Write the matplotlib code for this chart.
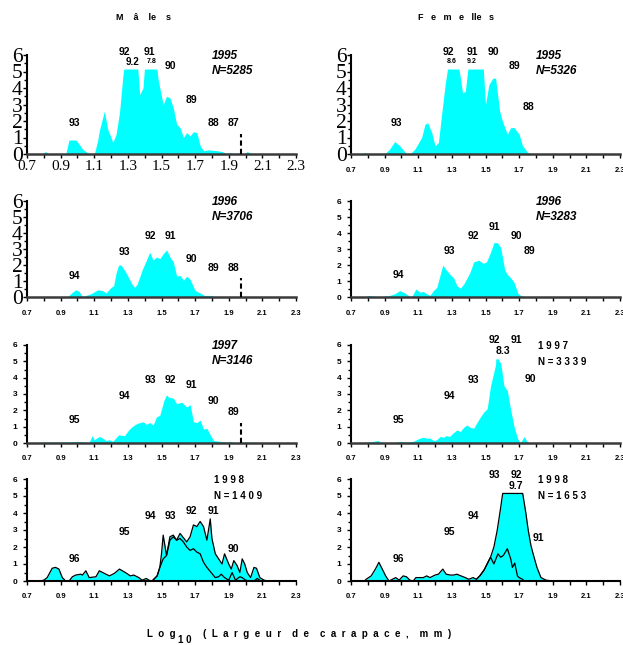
import numpy as np
import matplotlib
matplotlib.use("Agg")
import matplotlib.pyplot as plt
from matplotlib.ticker import MultipleLocator, FixedLocator

plt.rcParams['font.family'] = ['Liberation Sans', 'DejaVu Sans']

# ---------------- data: log10 carapace width vs. frequency (%) ----------------
CAP = 5.15  # display ceiling for the tallest modes

m95_x = [0.70, 0.79, 0.81, 0.83, 0.93, 0.95, 0.99, 1.01, 1.03, 1.07, 1.10, 1.12, 1.13, 1.16,
         1.18, 1.20, 1.21, 1.23, 1.25, 1.27, 1.285, 1.32, 1.35, 1.37, 1.39, 1.40, 1.44, 1.47,
         1.48, 1.51, 1.53, 1.55, 1.57, 1.59, 1.61, 1.63, 1.65, 1.67, 1.69, 1.71, 1.73, 1.75,
         1.78, 1.83, 1.86, 1.89, 1.91, 1.93, 1.96, 1.99, 2.01, 2.03, 2.06, 2.10, 2.30]
m95_y = [0, 0, 0.15, 0, 0, 0.85, 0.85, 0.6, 0.3, 0, 0, 0.8, 1.4, 2.6,
         1.5, 1.0, 0.7, 1.2, 2.5, 4.7, 6.0, 9.2, 6.5, 3.6, 4.0, 5.4, 7.8, 5.4,
         4.5, 3.0, 3.5, 3.4, 2.8, 1.8, 1.6, 1.0, 1.3, 1.1, 1.35, 1.3, 0.5, 0.2,
         0.25, 0.2, 0.15, 0.0, 0.1, 0.02, 0.05, 0.0, 0.15, 0.05, 0.02, 0.0, 0]

f95_x = [0.70, 0.77, 0.78, 0.80, 0.90, 0.93, 0.96, 0.99, 1.03, 1.05, 1.08, 1.12, 1.14, 1.156,
         1.18, 1.20, 1.22, 1.24, 1.26, 1.28, 1.31, 1.34, 1.364, 1.38, 1.40, 1.44, 1.484, 1.50,
         1.52, 1.544, 1.56, 1.584, 1.60, 1.63, 1.65, 1.67, 1.70, 1.72, 1.75, 1.78, 2.30]
f95_y = [0, 0, 0.1, 0, 0, 0.3, 0.75, 0.5, 0, 0, 0.3, 1.0, 1.8, 1.9,
         1.3, 0.5, 0.7, 2.5, 4.2, 5.6, 8.6, 5.3, 3.7, 3.8, 5.6, 9.2, 5.6, 3.0,
         4.2, 4.6, 4.6, 2.6, 2.0, 1.2, 1.6, 1.6, 1.2, 0.5, 0.1, 0, 0]

m96_x = [0.70, 0.80, 0.82, 0.84, 0.94, 0.97, 0.99, 1.01, 1.03, 1.05, 1.08, 1.12, 1.15, 1.17,
         1.20, 1.215, 1.23, 1.245, 1.26, 1.29, 1.325, 1.34, 1.355, 1.385, 1.41, 1.43, 1.45,
         1.47, 1.49, 1.51, 1.53, 1.55, 1.57, 1.59, 1.61, 1.63, 1.65, 1.67, 1.70, 1.73, 1.755,
         1.79, 1.82, 2.30]
m96_y = [0, 0, 0.05, 0, 0, 0.3, 0.45, 0.35, 0, 0.1, 0.2, 0.45, 0.4, 0.25,
         0.6, 0.7, 1.5, 2.0, 2.0, 1.5, 0.8, 0.6, 0.8, 1.7, 2.3, 2.8, 2.3,
         2.5, 2.4, 2.7, 2.95, 2.5, 2.2, 1.3, 1.35, 1.05, 1.3, 1.1, 0.4, 0.25, 0.1,
         0.1, 0.02, 0.02]

f96_x = [0.70, 0.78, 0.806, 0.84, 0.87, 0.93, 0.96, 0.99, 1.02, 1.04, 1.06, 1.086, 1.11, 1.13,
         1.15, 1.17, 1.19, 1.21, 1.246, 1.266, 1.29, 1.31, 1.33, 1.35, 1.37, 1.406, 1.43, 1.46,
         1.486, 1.506, 1.53, 1.55, 1.57, 1.59, 1.614, 1.63, 1.65, 1.67, 1.694, 1.72, 1.76, 2.30]
f96_y = [0, 0, 0.1, 0.05, 0, 0.1, 0.2, 0.4, 0.25, 0.1, 0, 0.5, 0.3, 0.35,
         0.2, 0.1, 0.4, 0.6, 2.0, 1.7, 1.4, 1.2, 0.7, 0.55, 0.8, 1.5, 2.2, 2.3,
         2.1, 2.2, 2.8, 3.4, 3.4, 3.1, 1.7, 1.4, 1.2, 0.9, 0.2, 0.05, 0, 0]

m97_x = [0.70, 0.80, 0.95, 1.00, 1.05, 1.07, 1.087, 1.10, 1.13, 1.15, 1.17, 1.19, 1.21, 1.245,
         1.28, 1.305, 1.325, 1.355, 1.39, 1.41, 1.43, 1.45, 1.47, 1.49, 1.514, 1.53, 1.543,
         1.57, 1.59, 1.62, 1.65, 1.67, 1.69, 1.71, 1.73, 1.75, 1.77, 1.79, 1.81, 1.85, 1.89,
         1.91, 1.93, 2.00, 2.30]
m97_y = [0, 0.05, 0.05, 0.1, 0.05, 0.05, 0.45, 0.2, 0.4, 0.3, 0.15, 0.2, 0.1, 0.5,
         0.45, 0.8, 1.0, 1.2, 1.3, 1.15, 1.25, 1.1, 1.6, 1.7, 2.6, 2.95, 2.8,
         2.75, 2.4, 2.5, 2.2, 2.35, 1.3, 1.25, 1.4, 0.85, 0.9, 0.5, 0.15, 0.1, 0.05,
         0.1, 0.02, 0.05, 0.0]

f97_x = [0.70, 0.80, 0.86, 0.88, 0.93, 0.97, 0.99, 1.03, 1.07, 1.11, 1.13, 1.15, 1.17, 1.19,
         1.21, 1.23, 1.25, 1.266, 1.286, 1.306, 1.33, 1.35, 1.374, 1.39, 1.41, 1.43, 1.446,
         1.47, 1.49, 1.51, 1.53, 1.56, 1.57, 1.58, 1.59, 1.61, 1.63, 1.65, 1.67, 1.69, 1.706,
         1.73, 1.746, 1.76, 2.30]
f97_y = [0, 0.05, 0.15, 0.05, 0, 0.05, 0.1, 0.05, 0.1, 0.3, 0.35, 0.3, 0.3, 0.15,
         0.2, 0.4, 0.35, 0.45, 0.4, 0.6, 0.8, 0.7, 1.0, 1.1, 0.95, 0.9, 1.2,
         1.6, 1.9, 2.1, 3.5, 4.8, 8.3, 5.0, 4.9, 3.5, 3.2, 2.0, 1.0, 0.3, 0.0,
         0.4, 0.1, 0, 0]

m98_x = [0.70, 0.78, 0.80, 0.82, 0.85, 0.87, 0.89, 0.91, 0.93, 0.95, 0.97, 0.99, 1.02, 1.03,
         1.05, 1.07, 1.11, 1.13, 1.16, 1.19, 1.22, 1.25, 1.285, 1.315, 1.335, 1.365, 1.385,
         1.41, 1.425, 1.444, 1.474, 1.49, 1.50, 1.51, 1.53, 1.55, 1.57, 1.59, 1.61, 1.63,
         1.65, 1.67, 1.69, 1.71, 1.73, 1.75, 1.77, 1.79, 1.80, 1.82, 1.84, 1.86, 1.875, 1.90,
         1.915, 1.93, 1.95, 1.966, 1.98, 1.995, 2.01, 2.03, 2.05, 2.065, 2.085, 2.11, 2.13, 2.30]
m98_y = [0, 0, 0.05, 0.2, 0.75, 0.8, 0.7, 0.2, 0, 0, 0.25, 0.35, 0.4, 0.35,
         0.6, 0.2, 0.25, 0.6, 0.45, 0.3, 0.45, 0.7, 0.5, 0.3, 0.35, 0.2, 0.05,
         0.15, 0.05, 0, 0.3, 0.8, 1.6, 2.7, 1.5, 2.6, 2.7, 2.4, 2.8, 2.55,
         2.3, 2.6, 3.3, 3.2, 3.5, 3.2, 2.4, 3.65, 2.5, 1.6, 1.3, 1.0, 1.6, 1.0,
         0.7, 1.2, 0.9, 0.5, 1.3, 1.0, 0.5, 0.2, 0.8, 0.75, 0.2, 0.05, 0, 0]
# lower component, 1998 males
m98b_x = [1.444, 1.474, 1.49, 1.51, 1.53, 1.55, 1.57, 1.59, 1.61, 1.63, 1.65, 1.67, 1.69,
          1.71, 1.73, 1.75, 1.77, 1.795, 1.82, 1.84, 1.855, 1.875, 1.90, 1.92, 1.94, 1.966,
          1.98, 2.00, 2.02, 2.05, 2.07, 2.09]
m98b_y = [0, 0.3, 0.8, 1.3, 1.5, 2.4, 2.6, 2.4, 2.5, 2.3, 2.0, 1.8, 1.9,
          1.7, 1.6, 1.1, 0.8, 0.5, 0.2, 0.25, 0.4, 0.2, 0.05, 0.5, 0.05, 0.25,
          0.2, 0.05, 0, 0, 0.15, 0]

f98_x = [0.70, 0.78, 0.79, 0.82, 0.845, 0.866, 0.886, 0.906, 0.926, 0.946, 0.966, 0.986,
         1.01, 1.03, 1.05, 1.07, 1.086, 1.11, 1.13, 1.15, 1.17, 1.20, 1.22, 1.246, 1.266,
         1.29, 1.31, 1.33, 1.354, 1.38, 1.40, 1.426, 1.446, 1.466, 1.49, 1.52, 1.53, 1.55,
         1.57, 1.59, 1.60, 1.61, 1.66, 1.714, 1.74, 1.754, 1.77, 1.786, 1.806, 1.83, 1.86,
         1.90, 2.30]
f98_y = [0, 0, 0.1, 0.3, 0.7, 1.1, 0.7, 0.3, 0, 0.1, 0.2, 0.05,
         0.3, 0.25, 0.05, 0, 0.2, 0.2, 0.2, 0.3, 0.2, 0.35, 0.4, 0.7, 0.4,
         0.35, 0.35, 0.4, 0.3, 0.2, 0.1, 0.2, 0.1, 0.3, 0.6, 1.2, 1.4, 2.0,
         3.0, 4.3, 5.0, 5.6, 9.7, 5.6, 4.0, 3.0, 2.1, 1.5, 0.8, 0.2, 0.05,
         0, 0]
# lower component, 1998 females
f98b_x = [1.446, 1.466, 1.494, 1.53, 1.55, 1.574, 1.59, 1.606, 1.63, 1.65, 1.66, 1.674,
          1.69, 1.70, 1.72, 1.73]
f98b_y = [0.1, 0.3, 0.7, 1.4, 1.0, 1.6, 1.4, 1.5, 1.9, 1.3, 0.8, 1.05,
          0.3, 0.2, 0.1, 0]

# cohort labels (year class), their positions and sizes
m95_lab = ["93", "92", "9.2", "91", "7.8", "90", "89", "88", "87"]
m95_lx = [0.98, 1.28, 1.325, 1.43, 1.44, 1.55, 1.68, 1.81, 1.93]
m95_ly = [1.86, 6.2, 5.6, 6.2, 5.6, 5.33, 3.3, 1.86, 1.86]
m95_ls = [7.5, 7.5, 7, 7.5, 5, 7.5, 7.5, 7.5, 7.5]

f95_lab = ["93", "92", "8.6", "91", "9.2", "90", "89", "88"]
f95_lx = [0.97, 1.28, 1.30, 1.42, 1.42, 1.544, 1.674, 1.754]
f95_ly = [1.86, 6.2, 5.6, 6.2, 5.6, 6.2, 5.33, 2.83]
f95_ls = [7.5, 7.5, 5, 7.5, 5, 7.5, 7.5, 7.5]

m96_lab = ["94", "93", "92", "91", "90", "89", "88"]
m96_lx = [0.98, 1.28, 1.434, 1.553, 1.68, 1.81, 1.93]
m96_ly = [1.33, 2.84, 3.81, 3.81, 2.36, 1.8, 1.8]

f96_lab = ["94", "93", "92", "91", "90", "89"]
f96_lx = [0.98, 1.286, 1.43, 1.55, 1.684, 1.764]
f96_ly = [1.37, 2.87, 3.83, 4.36, 3.83, 2.87]

m97_lab = ["95", "94", "93", "92", "91", "90", "89"]
m97_lx = [0.98, 1.28, 1.434, 1.553, 1.68, 1.81, 1.93]
m97_ly = [1.42, 2.89, 3.86, 3.86, 3.56, 2.6, 1.87]

f97_lab = ["95", "94", "93", "92", "8.3", "91", "90"]
f97_lx = [0.98, 1.286, 1.43, 1.554, 1.606, 1.686, 1.764]
f97_ly = [1.42, 2.89, 3.86, 6.3, 5.65, 6.3, 3.9]

m98_lab = ["96", "95", "94", "93", "92", "91", "90"]
m98_lx = [0.98, 1.28, 1.434, 1.553, 1.68, 1.81, 1.93]
m98_ly = [1.29, 2.86, 3.84, 3.84, 4.14, 4.14, 1.86]

f98_lab = ["96", "95", "94", "93", "92", "9.7", "91"]
f98_lx = [0.98, 1.286, 1.43, 1.554, 1.684, 1.684, 1.816]
f98_ly = [1.29, 2.86, 3.84, 6.24, 6.24, 5.6, 2.55]

years = ["1995", "1995", "1996", "1996", "1997", "1 9 9 7", "1 9 9 8", "1 9 9 8"]
counts = ["N=5285", "N=5326", "N=3706", "N=3283", "N=3146", "N = 3 3 3 9", "N = 1 4 0 9", "N = 1 6 5 3"]

x_ticks = [0.7, 0.9, 1.1, 1.3, 1.5, 1.7, 1.9, 2.1, 2.3]
y_ticks = [0, 1, 2, 3, 4, 5, 6]
fleet_limit = 1.975  # dashed marker in male panels


def capped(x, y, cap):
    """Clip a polyline at `cap`, inserting the crossing points."""
    xs, ys = [x[0]], [min(y[0], cap)]
    for i in range(1, len(x)):
        x0, y0, x1, y1 = x[i - 1], y[i - 1], x[i], y[i]
        if (y0 - cap) * (y1 - cap) < 0:
            t = (cap - y0) / (y1 - y0)
            xs.append(x0 + t * (x1 - x0))
            ys.append(cap)
        xs.append(x1)
        ys.append(min(y1, cap))
    return np.array(xs), np.array(ys)


W, H = 623, 645
fig = plt.figure(figsize=(W / 100, H / 100), dpi=100)

col_left = [27, 351]
ax_w = 269
row_px = [(55, 154), (201, 297), (345, 443), (479, 581)]

panels = [
    (m95_x, m95_y, None, m95_lab, m95_lx, m95_ly, m95_ls, 1.2),
    (f95_x, f95_y, None, f95_lab, f95_lx, f95_ly, f95_ls, None),
    (m96_x, m96_y, None, m96_lab, m96_lx, m96_ly, None, 1.2),
    (f96_x, f96_y, None, f96_lab, f96_lx, f96_ly, None, None),
    (m97_x, m97_y, None, m97_lab, m97_lx, m97_ly, None, 1.25),
    (f97_x, f97_y, None, f97_lab, f97_lx, f97_ly, None, None),
    (m98_x, m98_y, (m98b_x, m98b_y), m98_lab, m98_lx, m98_ly, None, None),
    (f98_x, f98_y, (f98b_x, f98b_y), f98_lab, f98_lx, f98_ly, None, None),
]

serif_y = {0, 1, 2}
serif_x = {0}

for k, (px, py, inner, lab, lx, ly, ls, dash_h) in enumerate(panels):
    r, c = divmod(k, 2)
    top, bot = row_px[r]
    ax = fig.add_axes([col_left[c] / W, 1 - bot / H, ax_w / W, (bot - top) / H])
    ax.set_xlim(0.7, 2.3)
    ax.set_ylim(0, 6)

    xc, yc = capped(px, py, CAP)
    ax.fill_between(xc, 0, yc, color='#00FFFF', lw=0, zorder=2)
    if inner is not None:
        ax.plot(xc, yc, color='black', lw=0.9, zorder=3)
        ix, iy = capped(inner[0], inner[1], CAP)
        ax.plot(ix, iy, color='black', lw=0.9, zorder=3)

    if dash_h is not None:
        ax.vlines(fleet_limit, 0, dash_h, colors='black', linestyles=(0, (2.5, 1.5)),
                  lw=1.5, zorder=4)

    for i, t in enumerate(lab):
        fs = ls[i] if ls is not None else 7.5
        ax.text(lx[i], ly[i], t, ha='center', va='center', fontsize=fs,
                fontweight='bold', zorder=5)

    if k < 5:
        ax.text(1.80, 5.92, years[k], ha='left', va='center', fontsize=8.5,
                fontweight='bold', style='italic')
        ax.text(1.80, 5.0, counts[k], ha='left', va='center', fontsize=8.5,
                fontweight='bold', style='italic')
    else:
        ax.text(1.81, 5.92, years[k], ha='left', va='center', fontsize=7,
                fontweight='bold')
        ax.text(1.81, 4.98, counts[k], ha='left', va='center', fontsize=7,
                fontweight='bold')

    for s in ('top', 'right'):
        ax.spines[s].set_visible(False)
    ax.spines['left'].set_linewidth(1.5)
    ax.spines['bottom'].set_linewidth(1.8 if r < 3 else 1.5)
    ax.spines['bottom'].set_color('#3a3a3a' if r < 3 else 'black')
    ax.patch.set_alpha(0)

    ax.xaxis.set_major_locator(FixedLocator(x_ticks))
    ax.xaxis.set_minor_locator(MultipleLocator(0.1))
    ax.yaxis.set_major_locator(FixedLocator(y_ticks))
    ax.yaxis.set_minor_locator(MultipleLocator(0.5))
    ax.tick_params(axis='both', which='both', direction='out', width=1, color='black')
    ax.tick_params(axis='x', which='major', length=3)
    ax.tick_params(axis='x', which='minor', length=3)
    ax.tick_params(axis='y', which='major', length=3)
    ax.tick_params(axis='y', which='minor', length=2)

    if k in serif_x:
        ax.set_xticklabels([f"{v:.1f}" for v in x_ticks], family='Liberation Serif',
                           fontsize=11)
        ax.tick_params(axis='x', pad=1.5)
    else:
        ax.set_xticklabels([f"{v:.1f}" for v in x_ticks], fontsize=5.5, fontweight='bold')
        ax.tick_params(axis='x', pad=6)

    if k in serif_y:
        ax.set_yticklabels([str(v) for v in y_ticks], family='Liberation Serif',
                           fontsize=15.5)
        ax.tick_params(axis='y', pad=0)
    else:
        ax.set_yticklabels([str(v) for v in y_ticks], fontsize=6, fontweight='bold')
        ax.tick_params(axis='y', pad=4)

fig.text(143 / W, 1 - 17 / H, "M    â    le    s", ha='center', va='center', fontsize=6.5,
         fontweight='bold')
fig.text(456 / W, 1 - 17 / H, "F   e   m   e   lle   s", ha='center', va='center',
         fontsize=6.5, fontweight='bold')

fig.text(147 / W, 1 - 634 / H, "L  o  g", ha='left', va='center', fontsize=7,
         fontweight='bold')
fig.text(178 / W, 1 - 640 / H, "1 0", ha='left', va='center', fontsize=7,
         fontweight='bold')
fig.text(203 / W, 1 - 634 / H,
         "(  L  a  r  g  e  u  r    d  e    c  a  r  a  p  a  c  e  ,    m  m  )",
         ha='left', va='center', fontsize=7, fontweight='bold')

fig.savefig("out.png", dpi=100)
